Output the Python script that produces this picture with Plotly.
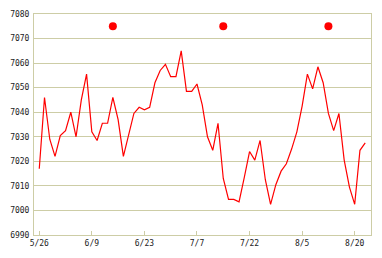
import plotly.graph_objects as go

values = [7017, 7046, 7029, 7022, 7030.5, 7032.5, 7040, 7030, 7045, 7055.5,
          7032, 7028.5, 7035.5, 7035.5, 7046, 7037, 7022, 7031, 7039.5, 7042,
          7041, 7042, 7052, 7057, 7059.5, 7054.5, 7054.5, 7065, 7048.5, 7048.5,
          7051.5, 7043, 7030, 7024.5, 7035.5, 7013, 7004.5, 7004.5, 7003.5, 7013.5,
          7024, 7020.5, 7028.5, 7012.5, 7002.5, 7010.5, 7016, 7019, 7025, 7032,
          7042.5, 7055.5, 7049.5, 7058.5, 7052, 7039.5, 7032.5, 7039.5, 7020.5, 7009.5,
          7002.5, 7024.5, 7027.5]
x_index = list(range(len(values)))

marker_x = [14, 35, 55]
marker_y = [7075, 7075, 7075]

tick_positions = [0, 10, 20, 30, 40, 50, 60]
tick_labels = ["5/26", "6/9", "6/23", "7/7", "7/22", "8/5", "8/20"]
y_ticks = [6990, 7000, 7010, 7020, 7030, 7040, 7050, 7060, 7070, 7080]

grid = "#cdcda6"
font = dict(family="DejaVu Sans Mono", size=8, color="#222222")

fig = go.Figure()
fig.add_trace(go.Scatter(x=x_index, y=values, mode="lines",
                         line=dict(color="#ff0000", width=1.2), hoverinfo="skip"))
fig.add_trace(go.Scatter(x=marker_x, y=marker_y, mode="markers",
                         marker=dict(color="#ff0000", size=8), hoverinfo="skip"))

fig.update_layout(
    width=382, height=258,
    margin=dict(l=34, r=10, t=10, b=23),
    paper_bgcolor="white", plot_bgcolor="white",
    showlegend=False,
    font=font,
)
fig.update_xaxes(range=[-1.0, 63.1], tickvals=tick_positions, ticktext=tick_labels,
                 showgrid=False, zeroline=False, showline=True, mirror=True,
                 linecolor=grid, linewidth=1, ticks="inside", ticklen=4,
                 tickcolor=grid, tickfont=font)
fig.update_yaxes(range=[6990, 7080], tickvals=y_ticks, showgrid=True, gridcolor=grid,
                 gridwidth=1, zeroline=False, showline=True, mirror=True,
                 linecolor=grid, linewidth=1, ticks="outside", ticklen=2,
                 tickcolor="rgba(0,0,0,0)", tickfont=font)

fig.write_html("out.html")
